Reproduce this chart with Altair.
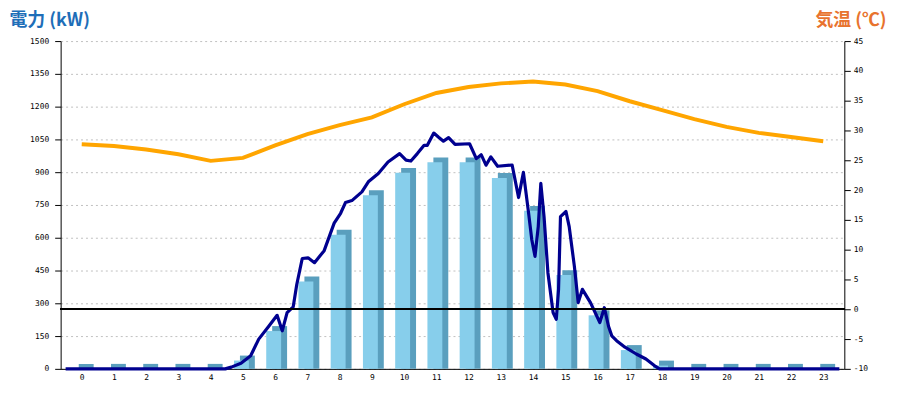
import altair as alt
import pandas as pd

# ---- data ----
hours = list(range(24))
power_hourly = [0, 0, 0, 0, 0, 38, 173, 400, 614, 795, 897, 945,
                945, 873, 723, 429, 245, 86, 15, 0, 0, 0, 0, 0]
temperature = [27.7, 27.4, 26.8, 26.0, 24.9, 25.4, 27.5, 29.4, 30.9, 32.2, 34.4, 36.3,
               37.3, 37.9, 38.2, 37.7, 36.6, 34.9, 33.4, 31.9, 30.6, 29.6, 28.9, 28.2]

# detailed power curve (time of day in hours, kW)
line_time = [0.0, 4.95, 5.14, 5.44, 5.74, 5.99, 6.29, 6.56, 6.72, 6.87, 7.06, 7.17,
             7.34, 7.52, 7.72, 8.02, 8.33, 8.53, 8.68, 8.88, 9.19, 9.39, 9.70, 10.00,
             10.36, 10.56, 10.71, 10.91, 11.12, 11.22, 11.42, 11.57, 11.72, 11.88, 12.08,
             12.53, 12.74, 12.89, 13.04, 13.19, 13.40, 13.85, 14.05, 14.20, 14.36, 14.46,
             14.56, 14.66, 14.74, 14.84, 14.96, 15.12, 15.22, 15.29, 15.35, 15.52, 15.62,
             15.78, 15.90, 16.03, 16.28, 16.57, 16.71, 16.84, 16.94, 17.09, 17.35, 17.70,
             18.00, 18.26, 18.42, 24.0]
line_kw = [0, 0, 8, 26, 60, 136, 193, 245, 174, 257, 284, 386,
           505, 508, 486, 541, 667, 712, 761, 770, 810, 856, 894, 947,
           985, 955, 951, 985, 1023, 1023, 1079, 1060, 1042, 1058, 1027,
           1030, 962, 980, 932, 970, 927, 933, 784, 899, 714, 591,
           515, 651, 849, 697, 440, 258, 227, 364, 697, 720, 651,
           470, 303, 364, 303, 212, 280, 195, 151, 129, 99, 68,
           45, 15, 0, 0]

left_ticks = list(range(0, 1501, 150))
right_ticks = list(range(-10, 46, 5))

hourly = pd.DataFrame({"hour": hours, "kw": power_hourly, "temp": temperature})
detail = pd.DataFrame({"time": line_time, "kw": line_kw})

FONT = "DejaVu Sans Mono"
x_scale = alt.Scale(domain=[-0.5, 23.5], nice=False, zero=False)
y_left_scale = alt.Scale(domain=[0, 1500], nice=False)
y_right_scale = alt.Scale(domain=[-10, 45], nice=False)

x_axis = alt.Axis(values=hours, title=None, ticks=False, grid=False, labelPadding=5,
                  labelFont=FONT, labelFontSize=8, labelColor="black",
                  domainColor="black", labelAngle=0)

left_axis = alt.Axis(values=left_ticks, orient="left", title="電力 (kW)", format="d",
                     titleAngle=0, titleAlign="left", titleBaseline="middle",
                     titleX=-52, titleY=-21, titleFont="Noto Sans CJK JP",
                     titleFontSize=18, titleFontWeight="bold", titleColor="#1E6EB8",
                     labelFont=FONT, labelFontSize=8, labelColor="black",
                     tickSize=6, tickColor="black", domainColor="black", labelPadding=6,
                     grid=True, gridColor="#c0c0c0", gridDash=[2, 3])

right_axis = alt.Axis(values=right_ticks, orient="right", title="気温 (℃)", format="d",
                      labelExpr="replace(datum.label, '\u2212', '-')",
                      titleAngle=0, titleAlign="right", titleBaseline="middle",
                      titleX=42, titleY=-21, titleFont="Noto Sans CJK JP",
                      titleFontSize=18, titleFontWeight="bold", titleColor="#E8732E",
                      labelFont=FONT, labelFontSize=8, labelColor="black",
                      tickSize=6, tickColor="black", domainColor="black", labelPadding=3,
                      grid=False)

X_H = alt.X("hour:Q", scale=x_scale, axis=x_axis)

base_h = alt.Chart(hourly)

dark_bars = base_h.mark_bar(width=15, xOffset=4.5, yOffset=-5, y2Offset=0,
                            color="#5A9FBE").encode(
    x=X_H,
    y=alt.Y("kw:Q", scale=y_left_scale, axis=left_axis, stack=None),
)
front_bars = base_h.mark_bar(width=15, xOffset=-1.5, color="#87CEEB").encode(
    x=X_H,
    y=alt.Y("kw:Q", scale=y_left_scale, axis=left_axis, stack=None),
)
power_line = alt.Chart(detail).transform_calculate(
    hour="datum.time - 0.5"
).mark_line(color="#00008F", strokeWidth=3.2, strokeJoin="round").encode(
    x=X_H,
    y=alt.Y("kw:Q", scale=y_left_scale, axis=left_axis),
    order="time:Q",
)

left = alt.layer(dark_bars, front_bars, power_line)

temp_line = base_h.mark_line(color="#FFA500", strokeWidth=4).encode(
    x=X_H,
    y=alt.Y("temp:Q", scale=y_right_scale, axis=right_axis),
)
zero_rule = base_h.mark_rule(color="black", strokeWidth=1.3).encode(
    y=alt.datum(0, scale=y_right_scale, axis=right_axis),
)

right = alt.layer(zero_rule, temp_line)

chart = alt.layer(left, right).resolve_scale(y="independent").properties(
    width=789, height=330,
    padding={"left": 53, "top": 32, "right": 48, "bottom": 22},
    autosize=alt.AutoSizeParams(type="none"),
).configure_view(stroke=None)

chart.save("out.html", embed_options={"renderer": "svg", "actions": False})
